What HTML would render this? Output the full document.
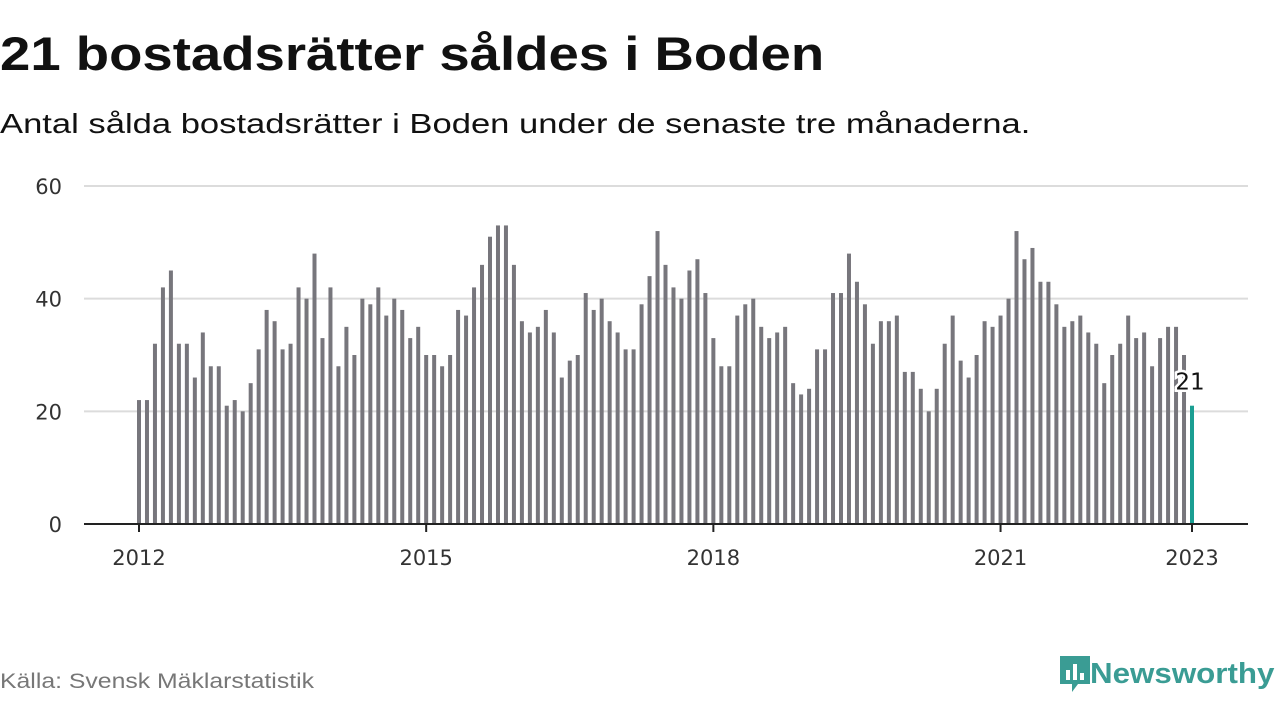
<!DOCTYPE html>
<html><head><meta charset="utf-8"><style>
body{margin:0;width:1280px;height:720px;background:#fff;font-family:"Liberation Sans","DejaVu Sans",sans-serif;overflow:hidden;position:relative}
#title{position:absolute;left:0;top:26px;font-size:47px;font-weight:bold;color:#111;margin:0;transform-origin:0 0;transform:scaleX(1.16);white-space:nowrap}
#sub{position:absolute;left:0;top:108px;font-size:28px;color:#111;transform-origin:0 0;transform:scaleX(1.235);white-space:nowrap}
#src{position:absolute;left:0;top:670px;font-size:21px;color:#777;transform-origin:0 0;transform:scaleX(1.18);white-space:nowrap}
#logo{position:absolute;left:1058px;top:654px;display:flex;align-items:center}
#logo span{font-size:29px;font-weight:bold;color:#3a9c94;margin-left:-2px;display:inline-block;transform-origin:0 50%;transform:scaleX(1.08)}
</style></head><body>
<h1 id="title">21 bostadsrätter såldes i Boden</h1>
<div id="sub">Antal sålda bostadsrätter i Boden under de senaste tre månaderna.</div>
<svg id="chart" width="1280" height="720" style="position:absolute;left:0;top:0"></svg>
<div id="src">Källa: Svensk Mäklarstatistik</div>
<div id="logo">
<svg width="34" height="40" viewBox="0 0 34 40"><path d="M2 2h30v28H20l-6 8v-8H2z" fill="#3a9c94"/><rect x="8" y="16" width="4" height="10" fill="#fff"/><rect x="15" y="10" width="4" height="16" fill="#fff"/><rect x="22" y="19" width="4" height="7" fill="#fff"/></svg>
<span>Newsworthy</span></div>
<script>
const values=[22,22,32,42,45,32,32,26,34,28,28,21,
22,20,25,31,38,36,31,32,42,40,48,33,
42,28,35,30,40,39,42,37,40,38,33,35,
30,30,28,30,38,37,42,46,51,53,53,46,
36,34,35,38,34,26,29,30,41,38,40,36,
34,31,31,39,44,52,46,42,40,45,47,41,
33,28,28,37,39,40,35,33,34,35,25,23,
24,31,31,41,41,48,43,39,32,36,36,37,
27,27,24,20,24,32,37,29,26,30,36,35,
37,40,52,47,49,43,43,39,35,36,37,34,
32,25,30,32,37,33,34,28,33,35,35,30,
21];
const startYear=2012;
const yTicks=[0,20,40,60];
const xTickYears=[2012,2015,2018,2021,2023];
const svg=document.getElementById('chart');const NS='http://www.w3.org/2000/svg';
const x0=139,x1=1192,y0=524,y1=186;
const xs=i=>x0+(x1-x0)*i/(values.length-1);
const ys=v=>y0-(y0-y1)*v/60;
const F='DejaVu Sans, sans-serif';
function mk(t,a){const e=document.createElementNS(NS,t);for(const k in a)e.setAttribute(k,a[k]);svg.appendChild(e);return e;}
yTicks.forEach(t=>{if(t>0){const g=mk('line',{x1:84,x2:1248,y1:ys(t),y2:ys(t),stroke:'#dcdcdc','stroke-width':2});

}
const l=mk('text',{x:62,y:ys(t)+8,'text-anchor':'end','font-size':21,fill:'#333','font-family':F});l.textContent=t;

});
values.forEach((v,i)=>{const last=i===values.length-1;
const r=mk('rect',{x:xs(i)-2,y:ys(v),width:4,height:y0-ys(v),fill:last?'#1a9e92':'#77767c'});

});
const ax=mk('line',{x1:84,x2:1248,y1:y0,y2:y0,stroke:'#222','stroke-width':2});


xTickYears.forEach(yr=>{const i=(yr-startYear)*12;const tk=mk('line',{x1:xs(i),x2:xs(i),y1:y0,y2:y0+8,stroke:'#222','stroke-width':2});


const l=mk('text',{x:xs(i),y:565,'text-anchor':'middle','font-size':21,fill:'#333','font-family':F});l.textContent=yr;

});
const li=values.length-1;
const lab=mk('text',{x:xs(li)-2,y:ys(values[li])-16,'text-anchor':'middle','font-size':23,fill:'#111',stroke:'#fff','stroke-width':5,'paint-order':'stroke','font-family':F});lab.textContent=values[li];


</script>
</body></html>
